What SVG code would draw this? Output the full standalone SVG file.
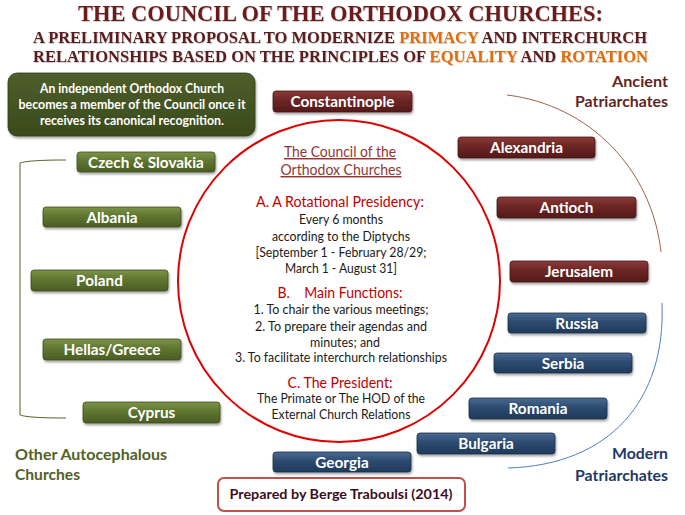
<svg xmlns="http://www.w3.org/2000/svg" width="685" height="515" viewBox="0 0 685 515">
<defs>
<linearGradient id="gRed" x1="0" y1="0" x2="0" y2="1">
<stop offset="0" stop-color="#8a3a38"/><stop offset="0.45" stop-color="#6c2624"/><stop offset="1" stop-color="#531a19"/>
</linearGradient>
<linearGradient id="gBlue" x1="0" y1="0" x2="0" y2="1">
<stop offset="0" stop-color="#4a6a92"/><stop offset="0.45" stop-color="#2d4b70"/><stop offset="1" stop-color="#1f3a5c"/>
</linearGradient>
<linearGradient id="gGreen" x1="0" y1="0" x2="0" y2="1">
<stop offset="0" stop-color="#7d9447"/><stop offset="0.45" stop-color="#5f7531"/><stop offset="1" stop-color="#4a5e24"/>
</linearGradient>
<linearGradient id="gBox" x1="0" y1="0" x2="0" y2="1">
<stop offset="0" stop-color="#4e5e2a"/><stop offset="1" stop-color="#3a4a1c"/>
</linearGradient>
<filter id="sh" x="-10%" y="-30%" width="120%" height="170%">
<feDropShadow dx="1" dy="2" stdDeviation="1.2" flood-color="#000" flood-opacity="0.35"/>
</filter>
<filter id="tsh" x="-5%" y="-20%" width="110%" height="150%">
<feDropShadow dx="0.6" dy="0.8" stdDeviation="0.5" flood-color="#000" flood-opacity="0.25"/>
</filter>
</defs>
<style>
.title{font-family:"Liberation Serif",serif;font-weight:bold;fill:#6b1f1f}
.sub{font-family:"Liberation Serif",serif;font-weight:bold;fill:#5a1c1c;font-size:16px}
.or{fill:#e36c09}
.btn{stroke-width:0.8}
.red{fill:url(#gRed);stroke:#4a1515}
.blue{fill:url(#gBlue);stroke:#172d48}
.green{fill:url(#gGreen);stroke:#3d4d1c}
.bt{font-family:Lato,"Liberation Sans",sans-serif;font-weight:bold;font-size:15.3px;fill:#fff;text-anchor:middle}
.ct{font-family:Lato,"Liberation Sans",sans-serif;font-size:13px;fill:#1a1a1a;text-anchor:middle}
.ch{font-family:Lato,"Liberation Sans",sans-serif;font-size:14.5px;fill:#c00000;text-anchor:middle}
.cu{font-family:Lato,"Liberation Sans",sans-serif;font-size:14.5px;fill:#943634;text-anchor:middle;text-decoration:underline}
.lab{font-family:Lato,"Liberation Sans",sans-serif;font-weight:bold;font-size:15.5px}
.wt{font-family:Lato,"Liberation Sans",sans-serif;font-weight:bold;font-size:13px;fill:#fff;text-anchor:middle}
</style>
<rect width="685" height="515" fill="#fff"/>

<g id="title" filter="url(#tsh)">
<text class="title" x="78" y="21" font-size="23" textLength="525" lengthAdjust="spacingAndGlyphs">THE COUNCIL OF THE ORTHODOX CHURCHES:</text>
<text class="sub" x="33" y="43" textLength="614" lengthAdjust="spacingAndGlyphs">A PRELIMINARY PROPOSAL TO MODERNIZE <tspan class="or">PRIMACY</tspan> AND INTERCHURCH</text>
<text class="sub" x="33" y="62" textLength="615" lengthAdjust="spacingAndGlyphs">RELATIONSHIPS BASED ON THE PRINCIPLES OF <tspan class="or">EQUALITY</tspan>  AND <tspan class="or">ROTATION</tspan></text>
</g>

<g id="note">
<rect x="8" y="73" width="247" height="63" rx="9" fill="url(#gBox)" stroke="#2f3b16" stroke-width="0.8" filter="url(#sh)"/>
<text class="wt" x="132" y="93" textLength="184" lengthAdjust="spacingAndGlyphs">An independent Orthodox Church</text>
<text class="wt" x="132" y="109" textLength="227" lengthAdjust="spacingAndGlyphs">becomes a member of the Council once it</text>
<text class="wt" x="132" y="125" textLength="184" lengthAdjust="spacingAndGlyphs">receives its canonical recognition.</text>
</g>

<g id="connectors" fill="none">
<path d="M66,160 C40,160 26,161 20,163 L20,415 C26,417 40,418 66,418" stroke="#4f6228" stroke-width="1"/>
<path d="M507,95 C590,105 652,170 661,252" stroke="#a0614d" stroke-width="1"/>
<path d="M662,303 C666,400 610,465 508,468" stroke="#4f7fc0" stroke-width="1"/>
</g>

<g id="council">
<circle cx="339" cy="281" r="161" fill="#fff" stroke="#e00000" stroke-width="2"/>
<text class="cu" x="340" y="157" textLength="112" lengthAdjust="spacingAndGlyphs">The Council of the</text>
<text class="cu" x="341" y="175" textLength="121" lengthAdjust="spacingAndGlyphs">Orthodox Churches</text>
<text class="ch" x="340" y="207" textLength="168" lengthAdjust="spacingAndGlyphs">A. A Rotational Presidency:</text>
<text class="ct" x="341" y="224" textLength="84" lengthAdjust="spacingAndGlyphs">Every 6 months</text>
<text class="ct" x="341" y="241" textLength="138" lengthAdjust="spacingAndGlyphs">according to the Diptychs</text>
<text class="ct" x="341" y="257" textLength="171" lengthAdjust="spacingAndGlyphs">[September 1 - February 28/29;</text>
<text class="ct" x="341" y="273" textLength="112" lengthAdjust="spacingAndGlyphs">March 1 - August 31]</text>
<text class="ch" x="340" y="298" textLength="125" lengthAdjust="spacingAndGlyphs" xml:space="preserve">B.    Main Functions:</text>
<text class="ct" x="341" y="314" textLength="175" lengthAdjust="spacingAndGlyphs">1. To chair the various meetings;</text>
<text class="ct" x="341" y="331" textLength="172" lengthAdjust="spacingAndGlyphs">2. To prepare their agendas and</text>
<text class="ct" x="345" y="347" textLength="70" lengthAdjust="spacingAndGlyphs">minutes; and</text>
<text class="ct" x="341" y="362" textLength="212" lengthAdjust="spacingAndGlyphs">3. To facilitate interchurch relationships</text>
<text class="ch" x="340" y="388" textLength="105" lengthAdjust="spacingAndGlyphs">C. The President:</text>
<text class="ct" x="341" y="403" textLength="168" lengthAdjust="spacingAndGlyphs">The Primate or The HOD of the</text>
<text class="ct" x="341" y="419" textLength="139" lengthAdjust="spacingAndGlyphs">External Church Relations</text>
</g>

<g id="constantinople"><rect class="btn red" x="273" y="91" width="139" height="21" rx="3" filter="url(#sh)"/><text class="bt" x="342.5" y="107">Constantinople</text></g>
<g id="alexandria"><rect class="btn red" x="458" y="137" width="137" height="21" rx="3" filter="url(#sh)"/><text class="bt" x="526.5" y="153">Alexandria</text></g>
<g id="antioch"><rect class="btn red" x="497" y="197" width="139" height="21" rx="3" filter="url(#sh)"/><text class="bt" x="566.5" y="213">Antioch</text></g>
<g id="jerusalem"><rect class="btn red" x="510" y="261" width="138" height="21" rx="3" filter="url(#sh)"/><text class="bt" x="579" y="277">Jerusalem</text></g>

<g id="russia"><rect class="btn blue" x="508" y="313" width="138" height="20" rx="3" filter="url(#sh)"/><text class="bt" x="577" y="328.5">Russia</text></g>
<g id="serbia"><rect class="btn blue" x="494" y="353" width="138" height="20" rx="3" filter="url(#sh)"/><text class="bt" x="563" y="368.5">Serbia</text></g>
<g id="romania"><rect class="btn blue" x="469" y="398" width="138" height="21" rx="3" filter="url(#sh)"/><text class="bt" x="538" y="414">Romania</text></g>
<g id="bulgaria"><rect class="btn blue" x="417" y="433" width="138" height="21" rx="3" filter="url(#sh)"/><text class="bt" x="486" y="449">Bulgaria</text></g>
<g id="georgia"><rect class="btn blue" x="273" y="452" width="138" height="20" rx="3" filter="url(#sh)"/><text class="bt" x="342" y="467.5">Georgia</text></g>

<g id="czech"><rect class="btn green" x="77" y="152" width="138" height="20" rx="3" filter="url(#sh)"/><text class="bt" x="146" y="167.5">Czech &amp; Slovakia</text></g>
<g id="albania"><rect class="btn green" x="43" y="207" width="138" height="20" rx="3" filter="url(#sh)"/><text class="bt" x="112" y="222.5">Albania</text></g>
<g id="poland"><rect class="btn green" x="31" y="270" width="137" height="21" rx="3" filter="url(#sh)"/><text class="bt" x="99.5" y="286">Poland</text></g>
<g id="hellas"><rect class="btn green" x="43" y="339" width="138" height="21" rx="3" filter="url(#sh)"/><text class="bt" x="112" y="355">Hellas/Greece</text></g>
<g id="cyprus"><rect class="btn green" x="83" y="402" width="137" height="21" rx="3" filter="url(#sh)"/><text class="bt" x="151.5" y="418">Cyprus</text></g>

<g id="labels">
<text class="lab" x="668" y="87" text-anchor="end" fill="#632523" textLength="56" lengthAdjust="spacingAndGlyphs">Ancient</text>
<text class="lab" x="668" y="107" text-anchor="end" fill="#632523" textLength="93" lengthAdjust="spacingAndGlyphs">Patriarchates</text>
<text class="lab" x="668" y="459" text-anchor="end" fill="#1f3864" textLength="56" lengthAdjust="spacingAndGlyphs">Modern</text>
<text class="lab" x="668" y="481" text-anchor="end" fill="#1f3864" textLength="93" lengthAdjust="spacingAndGlyphs">Patriarchates</text>
<text class="lab" x="15" y="460" fill="#4f6228" textLength="152" lengthAdjust="spacingAndGlyphs">Other Autocephalous</text>
<text class="lab" x="15" y="480" fill="#4f6228" textLength="65" lengthAdjust="spacingAndGlyphs">Churches</text>
</g>

<g id="prepared">
<rect x="218" y="478" width="247" height="33" rx="6" fill="#fff" stroke="#c0504d" stroke-width="2"/>
<text x="341" y="499" text-anchor="middle" font-family="Lato,'Liberation Sans',sans-serif" font-weight="bold" font-size="13.5" fill="#3b0d1e" textLength="223" lengthAdjust="spacingAndGlyphs">Prepared by Berge Traboulsi (2014)</text>
</g>
</svg>
